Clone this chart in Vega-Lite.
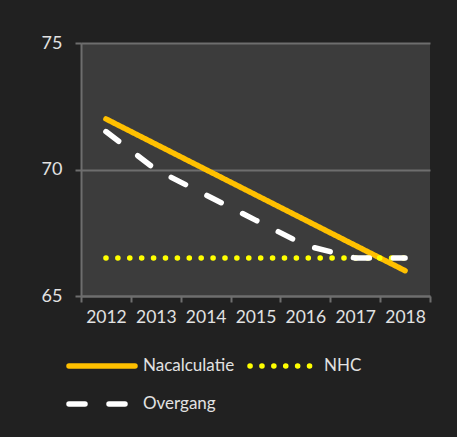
{
  "$schema": "https://vega.github.io/schema/vega-lite/v6.json",
  "width": 349,
  "height": 253,
  "autosize": {"type": "none"},
  "padding": {"left": 81, "top": 43, "right": 27, "bottom": 141},
  "background": "#212121",
  "config": {
    "view": {"fill": "#3c3c3c", "stroke": null},
    "font": "Lato"
  },
  "data": {
    "values": [
      {"year": "2012", "series": "Nacalculatie", "value": 72},
      {"year": "2013", "series": "Nacalculatie", "value": 71},
      {"year": "2014", "series": "Nacalculatie", "value": 70},
      {"year": "2015", "series": "Nacalculatie", "value": 69},
      {"year": "2016", "series": "Nacalculatie", "value": 68},
      {"year": "2017", "series": "Nacalculatie", "value": 67},
      {"year": "2018", "series": "Nacalculatie", "value": 66},
      {"year": "2012", "series": "NHC", "value": 66.5},
      {"year": "2013", "series": "NHC", "value": 66.5},
      {"year": "2014", "series": "NHC", "value": 66.5},
      {"year": "2015", "series": "NHC", "value": 66.5},
      {"year": "2016", "series": "NHC", "value": 66.5},
      {"year": "2017", "series": "NHC", "value": 66.5},
      {"year": "2018", "series": "NHC", "value": 66.5},
      {"year": "2012", "series": "Overgang", "value": 71.5},
      {"year": "2013", "series": "Overgang", "value": 70},
      {"year": "2014", "series": "Overgang", "value": 69},
      {"year": "2015", "series": "Overgang", "value": 68},
      {"year": "2016", "series": "Overgang", "value": 67},
      {"year": "2017", "series": "Overgang", "value": 66.5},
      {"year": "2018", "series": "Overgang", "value": 66.5}
    ]
  },
  "mark": {"type": "line", "strokeCap": "round", "strokeJoin": "round", "strokeWidth": 5.5},
  "encoding": {
    "x": {
      "field": "year",
      "type": "ordinal",
      "scale": {"type": "band", "paddingInner": 0, "paddingOuter": 0},
      "axis": {
        "title": null,
        "labelAngle": 0,
        "grid": false,
        "tickBand": "extent",
        "tickSize": 6,
        "tickWidth": 2,
        "tickColor": "#6e6e6e",
        "domainColor": "#6e6e6e",
        "domainWidth": 2,
        "labelPadding": 6,
        "labelFontSize": 17.5,
        "labelColor": "#e2e2e2",
        "labelFont": "Lato"
      }
    },
    "y": {
      "field": "value",
      "type": "quantitative",
      "scale": {"domain": [65, 75], "zero": false, "nice": false},
      "axis": {
        "title": null,
        "values": [65, 70, 75],
        "grid": true,
        "gridColor": "#6e6e6e",
        "gridWidth": 2,
        "tickSize": 6,
        "tickWidth": 2,
        "tickColor": "#6e6e6e",
        "domainColor": "#6e6e6e",
        "domainWidth": 2,
        "labelPadding": 13,
        "labelFontSize": 18,
        "labelColor": "#e2e2e2",
        "labelFont": "Lato"
      }
    },
    "color": {
      "field": "series",
      "type": "nominal",
      "sort": ["Nacalculatie", "NHC", "Overgang"],
      "scale": {
        "domain": ["Nacalculatie", "NHC", "Overgang"],
        "range": ["#FFC000", "#FFFF00", "#FFFFFF"]
      },
      "legend": {
        "title": null,
        "orient": "none",
        "direction": "horizontal",
        "legendX": -15,
        "legendY": 313,
        "columns": 2,
        "symbolType": "stroke",
        "symbolSize": 4356,
        "symbolStrokeWidth": 5.5,
        "clipHeight": 20,
        "rowPadding": 18,
        "columnPadding": 12,
        "labelOffset": 5,
        "padding": 0,
        "labelFontSize": 17,
        "labelColor": "#e2e2e2",
        "labelFont": "Lato",
        "encode": {
          "symbols": {"update": {"strokeCap": {"value": "round"}}}
        }
      }
    },
    "strokeDash": {
      "field": "series",
      "type": "nominal",
      "sort": ["Nacalculatie", "NHC", "Overgang"],
      "scale": {
        "domain": ["Nacalculatie", "NHC", "Overgang"],
        "range": [[1, 0], [0.1, 11.8], [16, 24]]
      }
    }
  }
}
